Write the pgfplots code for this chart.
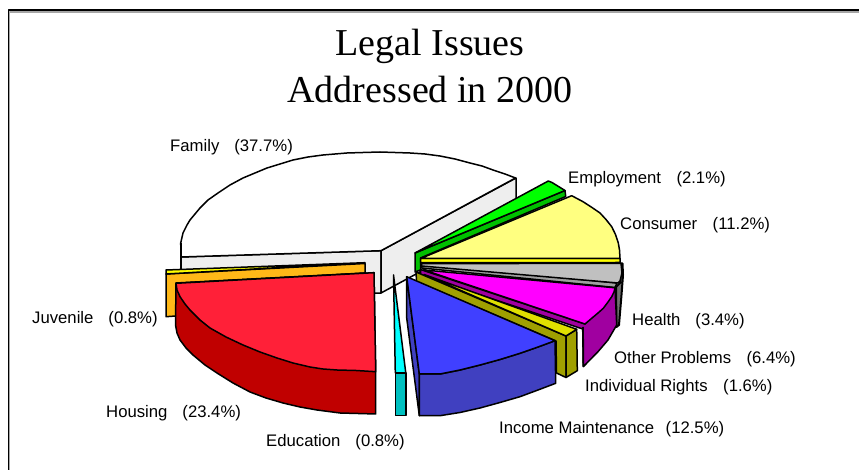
\documentclass[border=0pt]{standalone}
\usepackage{pgfplots}
\pgfplotsset{compat=1.18}
\usepackage{fontspec}
\setmainfont{Liberation Sans}
\newfontfamily\titlefont{Liberation Serif}

% wedge face colours
\definecolor{famwall}{HTML}{EEEEEE}
\definecolor{juvtop}{HTML}{FFFF00}
\definecolor{juvwall}{HTML}{FFB818}
\definecolor{houtop}{HTML}{FF2038}
\definecolor{houwall}{HTML}{C00000}
\definecolor{edutop}{HTML}{00FFFF}
\definecolor{eduwall}{HTML}{00C0C0}
\definecolor{inctop}{HTML}{4040FF}
\definecolor{incwall}{HTML}{4040C0}
\definecolor{indtop}{HTML}{E0E000}
\definecolor{indwall}{HTML}{A0A000}
\definecolor{othtop}{HTML}{FF00FF}
\definecolor{othwall}{HTML}{A000A0}
\definecolor{heatop}{HTML}{C0C0C0}
\definecolor{heawall}{HTML}{A0A0A0}
\definecolor{contop}{HTML}{FFFF80}
\definecolor{conwall}{HTML}{FFFF00}
\definecolor{emptop}{HTML}{00FF00}
\definecolor{empwall}{HTML}{00C000}

\newcommand{\lab}[5]{\node[anchor=base west,inner sep=0pt,font=\fontsize{16.7bp}{20bp}\selectfont] at (axis cs:#1,#2) {#3\hspace{#5bp}(#4\%)};}

\begin{document}
\begin{tikzpicture}
\begin{axis}[
  hide axis, scale only axis,
  width=859bp, height=470bp,
  xmin=0, xmax=859, ymin=0, ymax=470,
  y dir=reverse,
  clip=true,
  every axis plot/.append style={line width=1.5bp, line join=round, mark=none},
]
% page extent
\addplot[draw=none] coordinates {(0,0) (859,470)};

% outer frame with its soft edge
\addplot[draw=gray!70, line width=1.2bp] coordinates {(9.8,470) (9.8,12) (859,12)};
\addplot[draw=black, line width=1.7bp] coordinates {(8.5,470) (8.5,10) (859,10)};

% Family
\addplot[fill=famwall, draw=black] coordinates {(181,257) (381,250.7) (381,293) (181,299)} --cycle;
\addplot[fill=famwall, draw=black] coordinates {(381,250.7) (516,178) (516,220) (381,293)} --cycle;
\addplot[fill=white, draw=black] coordinates {
  (181,257) (180.7,243) (183,233) (187,225) (190,220) (200,208) (208,200) (218,193)
  (230,185) (243,178) (255,173) (267,168) (280,164) (293,160) (308,157) (323,155)
  (335,154) (347,153) (363,152.5) (380,152) (395,152.5) (410,153) (425,154) (440,156)
  (455,159) (470,163) (482,166) (493,170) (505,174) (515.5,178) (381,250.7)} --cycle;
\addplot[draw=black, line width=2bp] coordinates {(180.7,243) (180.7,272)};

% Juvenile
\addplot[fill=juvwall, draw=black] coordinates {(166,274) (365,263.5) (365,273) (176,283) (176,316) (166,316.7)} --cycle;
\addplot[fill=juvtop, draw=black] coordinates {(166,270) (365,262.7) (166,274)} --cycle;

% Housing
\addplot[fill=houwall, draw=black] coordinates {
  (176,283.3) (175.5,325) (177,333) (180,340) (186,348) (193,355) (205,365) (217,373) (233,383)
  (250,392) (266,398) (283,403) (300,407) (317,410) (340,413) (358,413.5) (375.7,414)
  (375.7,371.7) (374,272.7)} --cycle;
\addplot[fill=houtop, draw=black] coordinates {
  (176,283.3) (177,290) (180,296.7) (185,304) (190,310) (200,320) (210,328) (226,337)
  (243,345) (260,352) (277,358) (293,363) (310,367) (323,369) (337,370) (356,370.5)
  (375.7,371.7) (374,272.7)} --cycle;

% Education
\addplot[fill=eduwall, draw=black] coordinates {(395.3,373) (405.8,373) (405.8,415.7) (395.3,415.7)} --cycle;
\addplot[fill=edutop, draw=black] coordinates {(393.5,275) (405.8,373) (395.3,373)} --cycle;

% Employment
\addplot[fill=empwall, draw=black] coordinates {(415,253) (565,190.5) (565.7,196.5) (420.5,258) (420.5,270) (415,272)} --cycle;
\addplot[fill=emptop, draw=black] coordinates {(415,253) (548.3,181) (552,182.5) (565,190.5)} --cycle;

% Consumer
\addplot[fill=conwall, draw=black] coordinates {(420.7,258.5) (620,258.3) (620,262.5) (420.7,262.7)} --cycle;
\addplot[fill=contop, draw=black] coordinates {
  (420.7,258.5) (571.7,195.7) (583,201.7) (592,207.5) (600,213) (606,219.5) (611.7,226.7)
  (615.5,234.5) (618.3,243) (619.5,250) (620,258.3)} --cycle;

% Health
\addplot[fill=heawall!70!black, draw=black, line width=2bp] coordinates {(620.5,263.5) (622.5,263.5) (623,275) (621.5,295) (619,325) (616.5,327) (616,287) (620,283)} --cycle;
\addplot[fill=heawall, draw=black] coordinates {(421.7,264) (617,283) (615,287.5) (421.7,268)} --cycle;
\addplot[fill=heatop, draw=black] coordinates {(421.7,263.7) (621,263.3) (622,273) (620,281) (618,283) (421.7,266)} --cycle;

% Other Problems
\addplot[fill=othwall, draw=black] coordinates {(420.5,269.5) (585,324) (615,287.8) (616.7,325) (608,340) (598,351.7) (583.3,366.7) (582.7,329) (420.5,275)} --cycle;
\addplot[fill=othtop, draw=black] coordinates {
  (424,270) (615,287.8) (614,292) (611.7,296.7) (608,302) (603.3,308.3) (598,313) (591.7,318.3) (585,324)} --cycle;
\addplot[draw=black, line width=1.8bp] coordinates {(583,327) (583.3,366.7)};

% Individual Rights
\addplot[fill=indwall, draw=black] coordinates {(416,272) (566,336) (566,377.5) (556.5,373) (556,341) (416.5,281.5)} --cycle;
\addplot[fill=indwall, draw=black] coordinates {(566,336) (576.7,329.3) (577.3,370.7) (566,377.5)} --cycle;
\addplot[fill=indtop, draw=black] coordinates {(424,274.5) (576.7,329.3) (566,336)} --cycle;

% Income Maintenance
\addplot[fill=incwall, draw=black] coordinates {(406.7,276.7) (419.3,374) (419.3,415.7) (406.7,318)} --cycle;
\addplot[fill=incwall, draw=black] coordinates {
  (419.3,374) (440,374) (460,370) (480,365) (500,359.5) (520,353.3) (538,347) (555,340.7)
  (555.7,383.3) (538,390) (520,396.7) (500,402.5) (480,408) (460,412.5) (440,415.7) (419.3,415.7)} --cycle;
\addplot[fill=inctop, draw=black] coordinates {
  (406.7,276.7) (555,340.7) (538,347) (520,353.3) (500,359.5) (480,365) (460,370) (440,374) (419.3,374)} --cycle;

% Title
\node[font=\titlefont\fontsize{38bp}{44bp}\selectfont] at (axis cs:430,46) {Legal Issues};
\node[font=\titlefont\fontsize{38bp}{44bp}\selectfont] at (axis cs:430,90) {Addressed in 2000};

% Slice labels
\lab{170}{152}{Family}{37.7}{15}
\lab{568}{184}{Employment}{2.1}{15.5}
\lab{620}{230}{Consumer}{11.2}{15.5}
\lab{32}{324}{Juvenile}{0.8}{15}
\lab{632}{326}{Health}{3.4}{15}
\lab{614}{364}{Other Problems}{6.4}{15.5}
\lab{585}{392}{Individual Rights}{1.6}{15.5}
\lab{106}{418}{Housing}{23.4}{15}
\lab{499}{434}{Income Maintenance}{12.5}{11.5}
\lab{266}{447}{Education}{0.8}{15}
\end{axis}
\end{tikzpicture}
\end{document}
